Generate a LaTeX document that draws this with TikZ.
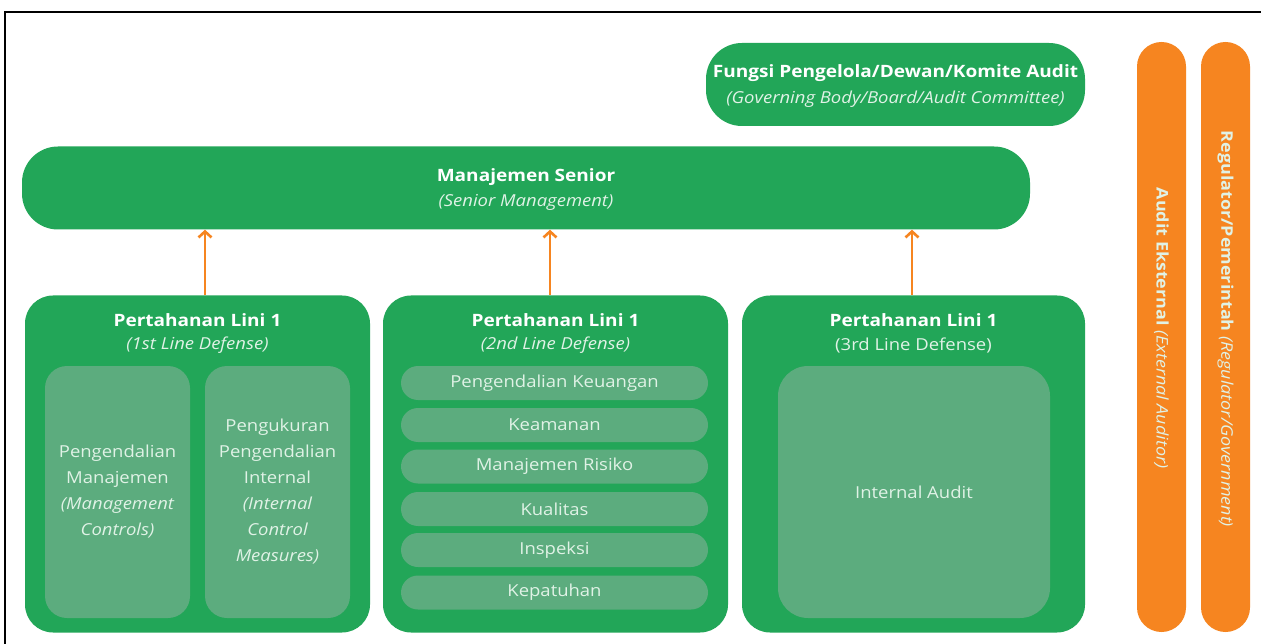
\documentclass[tikz,border=0pt]{standalone}
\usepackage{fontspec}
\setmainfont{Open Sans}[FakeStretch=1.12]
\usetikzlibrary{arrows.meta}
\definecolor{gr}{RGB}{34,166,88}
\definecolor{grl}{RGB}{92,172,126}
\definecolor{org}{RGB}{246,133,32}
\definecolor{pale}{RGB}{224,242,230}
\tikzset{
  gbox/.style={fill=gr, draw=none, rectangle},
  ibox/.style={fill=grl, draw=none, rectangle, rounded corners=22pt},
  pill/.style={fill=grl, draw=none, rectangle, rounded corners=17pt, minimum width=307pt, minimum height=34pt, text=pale, font=\fontsize{16.5}{18}\selectfont},
  obar/.style={fill=org, draw=none, rectangle, rounded corners=24.5pt, minimum width=49pt, minimum height=590pt},
  ttl/.style={text=white, font=\bfseries\fontsize{17}{20}\selectfont},
  sub/.style={text=pale, font=\fontsize{16.5}{19}\selectfont},
  itxt/.style={text=pale, align=center, font=\fontsize{16.5}{26}\selectfont},
  arr/.style={draw=org, line width=2.6pt, -{Straight Barb[length=6pt,width=13pt,line width=2.6pt]}},
}
\begin{document}
\begin{tikzpicture}[x=1pt,y=-1pt]
\useasboundingbox (0,0) rectangle (1261,644);
\fill[white] (0,0) rectangle (1261,644);
% frame
\draw[line width=2pt, black] (5,646) -- (5,12) -- (1263,12);

% governing body
\node[gbox, rounded corners=36pt, minimum width=379pt, minimum height=83pt] (fungsi) at (895.5,84.5) {};
\node[ttl] (fungsiT) at (895.5,73) {Fungsi Pengelola/Dewan/Komite Audit};
\node[sub] (fungsiS) at (895.5,99) {\itshape (Governing Body/Board/Audit Committee)};

% senior management
\node[gbox, rounded corners=36pt, minimum width=1008pt, minimum height=83pt] (ms) at (526,188) {};
\node[ttl] (msT) at (526,177) {Manajemen Senior};
\node[sub] (msS) at (526,202) {\itshape (Senior Management)};

% line 1
\node[gbox, rounded corners=28pt, minimum width=345pt, minimum height=337pt] (b1) at (197.5,464) {};
\node[ttl] (b1T) at (197.5,320) {Pertahanan Lini 1};
\node[sub] (b1S) at (197.5,345) {\itshape (1st Line Defense)};
\node[ibox, minimum width=145pt, minimum height=252pt] (b1a) at (117.5,492) {};
\node[ibox, minimum width=145pt, minimum height=252pt] (b1b) at (277.5,492) {};
\node[itxt] (b1aT) at (b1a) {Pengendalian\\Manajemen\\\itshape(Management\\\itshape Controls)};
\node[itxt] (b1bT) at (b1b) {Pengukuran\\Pengendalian\\Internal\\\itshape(Internal\\\itshape Control\\\itshape Measures)};

% line 2
\node[gbox, rounded corners=28pt, minimum width=345pt, minimum height=337pt] (b2) at (555.5,464) {};
\node[ttl] (b2T) at (555.5,320) {Pertahanan Lini 1};
\node[sub] (b2S) at (555.5,345) {\itshape (2nd Line Defense)};
\node[pill] (p1) at (554.5,383) {Pengendalian Keuangan};
\node[pill] (p2) at (554.5,425) {Keamanan};
\node[pill] (p3) at (554.5,466.5) {Manajemen Risiko};
\node[pill] (p4) at (554.5,509) {Kualitas};
\node[pill] (p5) at (554.5,550) {Inspeksi};
\node[pill] (p6) at (554.5,592.5) {Kepatuhan};

% line 3
\node[gbox, rounded corners=28pt, minimum width=343pt, minimum height=337pt] (b3) at (913.5,464) {};
\node[ttl] (b3T) at (913.5,320) {Pertahanan Lini 1};
\node[sub] (b3S) at (913.5,345) {(3rd Line Defense)};
\node[ibox, rounded corners=30pt, minimum width=272pt, minimum height=252pt] (b3a) at (914,492) {};
\node[itxt] (b3aT) at (b3a) {Internal Audit};

% arrows
\coordinate (a1) at (205,295);
\coordinate (a2) at (550,295);
\coordinate (a3) at (912,295);
\draw[arr] (a1) -- (a1 |- ms.south);
\draw[arr] (a2) -- (a2 |- ms.south);
\draw[arr] (a3) -- (a3 |- ms.south);

% external bars
\node[obar] (ext) at (1161.5,337) {};
\node[obar] (reg) at (1225.5,337) {};
\node[rotate=-90, text=pale, font=\fontsize{16}{18}\selectfont] (extT) at (1161.5,328) {\textbf{Audit Eksternal} \textit{(External Auditor)}};
\node[rotate=-90, text=pale, font=\fontsize{16}{18}\selectfont] (regT) at (1225.5,329) {\textbf{Regulator/Pemerintah} \textit{(Regulator/Government)}};
\end{tikzpicture}
\end{document}
